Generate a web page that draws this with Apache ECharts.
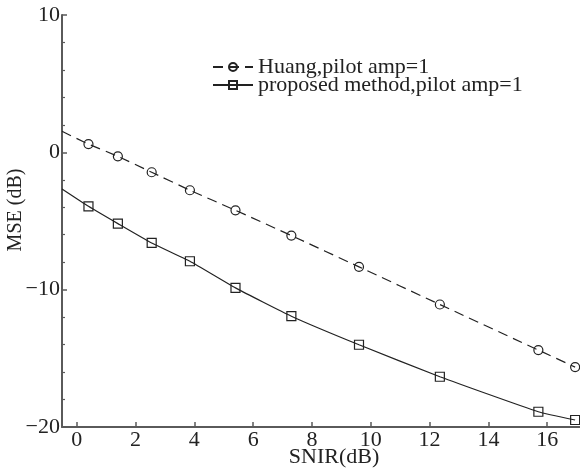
<!DOCTYPE html>
<html>
<head>
<meta charset="utf-8">
<script src="https://cdn.jsdelivr.net/npm/echarts@6/dist/echarts.min.js"></script>
<style>
  html, body { margin: 0; padding: 0; background: #fff; }
  #chart { width: 580px; height: 472px; }
</style>
</head>
<body>
<div id="chart"></div>
<script>
// SNIR (dB) sample points, the first one only carries the line to the axis
var snir = [-0.5, 0.4, 1.4, 2.55, 3.85, 5.4, 7.3, 9.6, 12.35, 15.7, 16.95];
var huang = [1.53, 0.6, -0.29, -1.45, -2.76, -4.22, -6.06, -8.34, -11.08, -14.4, -15.64];
var proposed = [-2.67, -3.93, -5.19, -6.6, -7.93, -9.87, -11.93, -14.01, -16.34, -18.89, -19.49];
var seriesNames = ['Huang,pilot amp=1', 'proposed method,pilot amp=1'];

var font = 'Liberation Serif';
var axisGrey = '#5a5a5a';

function toPoints(ys) {
  return snir.map(function (x, i) {
    var p = { value: [x, ys[i]] };
    if (i === 0) p.symbol = 'none';
    return p;
  });
}

var chart = echarts.init(document.getElementById('chart'));
chart.setOption({
  animation: false,
  backgroundColor: '#fff',
  grid: {
    left: 62,
    top: 15,
    right: -26,
    bottom: 45,
    containLabel: false,
    outerBoundsMode: 'none'
  },
  legend: {
    orient: 'vertical',
    left: 212,
    top: 56,
    padding: 0,
    itemWidth: 40,
    itemHeight: 10,
    itemGap: -4,
    textStyle: {
      fontFamily: font,
      fontSize: 22,
      color: '#222'
    },
    data: seriesNames
  },
  xAxis: {
    type: 'value',
    min: -0.5,
    max: 18,
    splitNumber: 9,
    name: 'SNIR(dB)',
    nameLocation: 'middle',
    nameGap: 19,
    nameMoveOverlap: false,
    nameTextStyle: { fontFamily: font, fontSize: 22, color: '#222' },
    axisLine: { onZero: false, lineStyle: { color: axisGrey, width: 2 } },
    axisTick: { inside: true, length: 5, lineStyle: { color: axisGrey, width: 1.5 } },
    axisLabel: {
      fontFamily: font,
      fontSize: 22,
      color: '#222',
      margin: 2,
      showMinLabel: false,
      showMaxLabel: false
    },
    splitLine: { show: false }
  },
  yAxis: {
    type: 'value',
    min: -20,
    max: 10,
    interval: 10,
    name: 'MSE (dB)',
    nameLocation: 'middle',
    nameGap: 36,
    nameMoveOverlap: false,
    nameTextStyle: { fontFamily: font, fontSize: 20, color: '#222', padding: [0, 0, 0, 22] },
    axisLine: { show: true, onZero: false, lineStyle: { color: axisGrey, width: 2 } },
    axisTick: { show: true, inside: true, length: 5, lineStyle: { color: axisGrey, width: 1.5 } },
    minorTick: { show: true, splitNumber: 5, length: 3, lineStyle: { color: axisGrey, width: 1.2 } },
    axisLabel: {
      fontFamily: font,
      fontSize: 22,
      color: '#222',
      margin: 2,
      formatter: function (v) { return String(v).replace('-', '\u2212'); }
    },
    splitLine: { show: false }
  },
  series: [
    {
      name: seriesNames[0],
      type: 'line',
      smooth: 0.15,
      symbol: 'circle',
      symbolSize: 9,
      lineStyle: { color: '#222', width: 1.2, type: [10, 6] },
      itemStyle: { color: 'rgba(255,255,255,0)', borderColor: '#222', borderWidth: 1.2 },
      data: toPoints(huang)
    },
    {
      name: seriesNames[1],
      type: 'line',
      smooth: 0.15,
      symbol: 'rect',
      symbolSize: 9,
      lineStyle: { color: '#222', width: 1.2 },
      itemStyle: { color: 'rgba(255,255,255,0)', borderColor: '#222', borderWidth: 1.2 },
      data: toPoints(proposed)
    }
  ]
});
</script>
</body>
</html>
